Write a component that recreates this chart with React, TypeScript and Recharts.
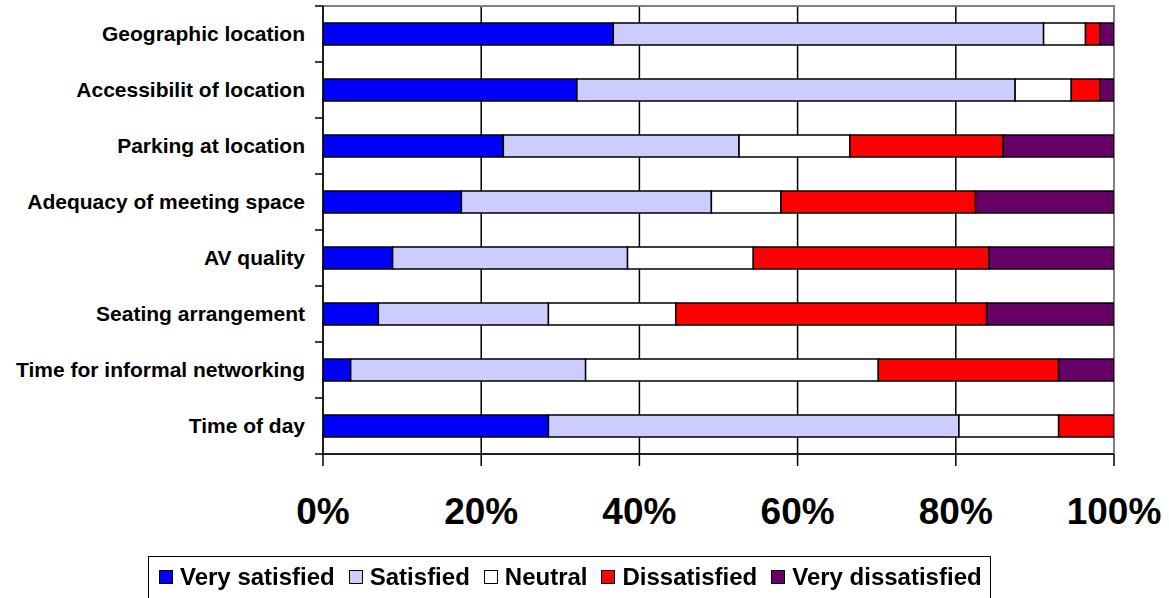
import React from 'react';
import { BarChart, Bar, XAxis, YAxis, CartesianGrid, ReferenceArea } from 'recharts';

const categories = [
  'Geographic location',
  'Accessibilit of location',
  'Parking at location',
  'Adequacy of meeting space',
  'AV quality',
  'Seating arrangement',
  'Time for informal networking',
  'Time of day',
];
const verySatisfied = [36.7, 32.1, 22.8, 17.5, 8.8, 7.0, 3.5, 28.5];
const satisfied = [54.4, 55.4, 29.8, 31.6, 29.7, 21.5, 29.7, 51.9];
const neutral = [5.3, 7.1, 14.0, 8.8, 15.9, 16.1, 37.0, 12.6];
const dissatisfied = [1.8, 3.6, 19.4, 24.6, 29.8, 39.3, 22.8, 7.0];
const veryDissatisfied = [1.8, 1.8, 14.0, 17.5, 15.8, 16.1, 7.0, 0];
const xTicks = [0, 20, 40, 60, 80, 100];

const seriesNames = ['Very satisfied', 'Satisfied', 'Neutral', 'Dissatisfied', 'Very dissatisfied'];
const seriesKeys = ['vs', 's', 'n', 'd', 'vd'];
const seriesColors = ['#0000FF', '#CCCCFF', '#FFFFFF', '#FF0000', '#660066'];

const data = categories.map((name, i) => ({
  name,
  vs: verySatisfied[i],
  s: satisfied[i],
  n: neutral[i],
  d: dissatisfied[i],
  vd: veryDissatisfied[i],
}));

const FONT = "'Liberation Sans', Arial, sans-serif";
const Y_TICK_SIZE = 8;
const Y_TICK_MARGIN = 10;

const YTick = (props: any) => {
  const { x, y, payload, index, visibleTicksCount } = props;
  const off = payload && typeof payload.offset === 'number' ? payload.offset : 0;
  const lx1 = x + Y_TICK_MARGIN;
  const lx2 = x + Y_TICK_MARGIN + Y_TICK_SIZE;
  const isLast = visibleTicksCount ? index === visibleTicksCount - 1 : index === categories.length - 1;
  return (
    <g>
      {off > 0 && <line x1={lx1} x2={lx2} y1={y - off} y2={y - off} stroke="#000" strokeWidth={1.5} />}
      {off > 0 && isLast && <line x1={lx1} x2={lx2} y1={y + off} y2={y + off} stroke="#000" strokeWidth={1.5} />}
      <text
        x={x}
        y={y}
        dy="0.355em"
        textAnchor="end"
        fontFamily={FONT}
        fontWeight="bold"
        fontSize={21}
        fill="#000"
      >
        {payload.value}
      </text>
    </g>
  );
};

export default function App() {
  return (
    <div style={{ position: 'fixed', left: 0, top: 0, width: 1169, height: 598, background: '#fff' }}>
      <BarChart
        width={1169}
        height={598}
        data={data}
        layout="vertical"
        margin={{ top: 6, right: 55, bottom: 0, left: 0 }}
        barSize={22}
      >
        <CartesianGrid vertical horizontal={false} stroke="#000" strokeWidth={1.5} />
        <ReferenceArea x1={0} x2={100} fill="none" stroke="#808080" strokeWidth={2} ifOverflow="visible" />
        <XAxis
          type="number"
          domain={[0, 100]}
          ticks={xTicks}
          allowDataOverflow
          tickFormatter={(v: number) => `${v}%`}
          height={144}
          tickSize={12}
          tickMargin={32}
          axisLine={{ stroke: '#000', strokeWidth: 1.5 }}
          tickLine={{ stroke: '#000', strokeWidth: 1.5 }}
          tick={{ fontSize: 37, fontWeight: 'bold', fill: '#000', fontFamily: FONT }}
          interval={0}
        />
        <YAxis
          type="category"
          dataKey="name"
          width={323}
          tickSize={Y_TICK_SIZE}
          tickMargin={Y_TICK_MARGIN}
          tickLine={false}
          axisLine={{ stroke: '#000', strokeWidth: 1.5 }}
          tick={<YTick />}
          interval={0}
        />
        {seriesKeys.map((k, i) => (
          <Bar
            key={k}
            dataKey={k}
            name={seriesNames[i]}
            stackId="a"
            fill={seriesColors[i]}
            stroke="#000"
            strokeWidth={1.5}
            isAnimationActive={false}
          />
        ))}
      </BarChart>
      <div
        style={{
          position: 'absolute',
          left: 148,
          top: 556,
          width: 843,
          height: 46,
          boxSizing: 'border-box',
          border: '1.5px solid #000',
          display: 'flex',
          alignItems: 'center',
          paddingLeft: 10,
          paddingBottom: 4,
          fontFamily: FONT,
          fontWeight: 'bold',
          fontSize: 24,
          color: '#000',
          whiteSpace: 'nowrap',
        }}
      >
        {seriesNames.map((n, i) => (
          <div key={n} style={{ display: 'flex', alignItems: 'center', marginRight: 14 }}>
            <span
              style={{
                display: 'inline-block',
                width: 12,
                height: 12,
                border: '1.5px solid #000',
                background: seriesColors[i],
                marginRight: 7,
              }}
            />
            <span>{n}</span>
          </div>
        ))}
      </div>
    </div>
  );
}
